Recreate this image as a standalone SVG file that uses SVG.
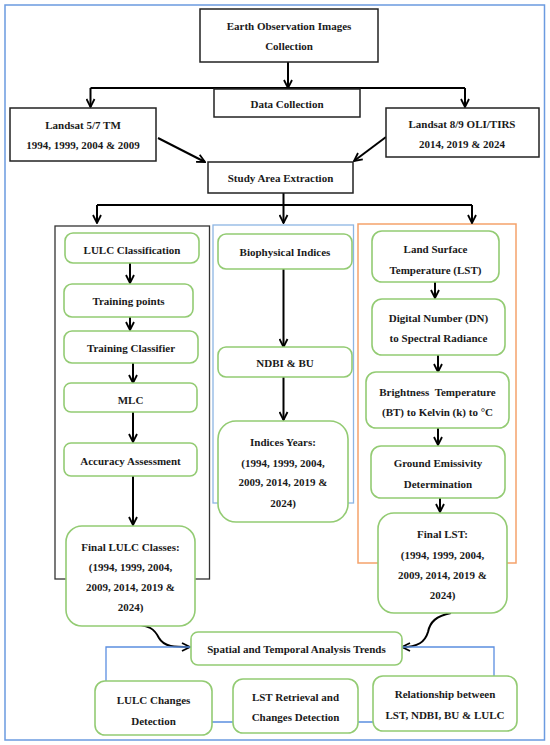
<svg xmlns="http://www.w3.org/2000/svg" width="550" height="745" viewBox="0 0 550 745" font-family="'Liberation Serif', 'Times New Roman', serif">
<style>
text{font-family:"Liberation Serif","Times New Roman",serif;font-weight:bold;font-size:11px;fill:#1a1a1a;text-anchor:middle;dominant-baseline:central}
.bx{fill:#fff;stroke:#222;stroke-width:1.5}
.gn{fill:#fff;stroke:#93cb73;stroke-width:1.6}
.ar{fill:none;stroke:#000;stroke-width:2;marker-end:url(#ah)}
.ln{fill:none;stroke:#000;stroke-width:2}
.bl{fill:none;stroke:#5b8ee0;stroke-width:1.3}
</style>
<defs>
<marker id="ah" viewBox="0 0 10 10" refX="9" refY="5" markerWidth="10" markerHeight="10" markerUnits="userSpaceOnUse" orient="auto">
<path d="M1,1 L9,5 L1,9" fill="none" stroke="#000" stroke-width="1.8"/>
</marker>
</defs>
<rect x="5" y="5" width="539.5" height="735" fill="#fff" stroke="#6b9be0" stroke-width="1.5"/>
<g id="panels">
<rect x="55" y="226" width="154.5" height="353" fill="none" stroke="#333" stroke-width="1.3"/>
<rect x="213" y="225" width="140.5" height="278" fill="none" stroke="#8db5e3" stroke-width="1.3"/>
<rect x="358" y="224" width="158" height="339" fill="none" stroke="#f5a26b" stroke-width="1.5"/>
</g>
<g id="connectors">
<path class="ar" d="M288,62 V88"/>
<path class="ln" d="M90.5,88 H465"/>
<path class="ar" d="M90.5,88 V107"/>
<path class="ar" d="M465,88 V107"/>
<path class="ar" d="M158,138 L205,162"/>
<path class="ar" d="M386,137 L354,161"/>
<path class="ln" d="M283.5,193 V205 M97,205 H472"/>
<path class="ar" d="M97,205 V223"/>
<path class="ar" d="M283.5,205 V223"/>
<path class="ar" d="M472,205 V223"/>
<path class="ar" d="M130,263 V283"/>
<path class="ar" d="M130,317 V330"/>
<path class="ar" d="M133,363 V383"/>
<path class="ar" d="M133,412 V442"/>
<path class="ar" d="M133,476 V525"/>
<path class="ar" d="M283.5,269 V347"/>
<path class="ar" d="M283.5,377 V420"/>
<path class="ar" d="M435,282 V298"/>
<path class="ar" d="M438,355 V372"/>
<path class="ar" d="M438,428 V445"/>
<path class="ar" d="M440,498 V512"/>
<path class="ar" d="M128,624 C150,624 155,630 159,638 C164,647 175,647 190,647"/>
<path class="ar" d="M451,613 C436,616 430,622 428,632 C425,642 418,647 402,647"/>
<path class="bl" d="M191,647 H106 V681"/>
<path class="bl" d="M402,647 H494 V676"/>
<path class="bl" d="M212,722 H233 M358,722 H373"/>
</g>
<g id="n-earth"><rect class="bx" x="200" y="9" width="178" height="53"/><text x="289" y="26">Earth Observation Images</text><text x="289" y="46">Collection</text></g>
<g id="n-data"><rect class="bx" x="214" y="89" width="146" height="28"/><text x="287" y="104">Data Collection</text></g>
<g id="n-l57"><rect class="bx" x="10" y="108" width="146" height="53"/><text x="83" y="125">Landsat 5/7 TM</text><text x="83" y="145">1994, 1999, 2004 &amp; 2009</text></g>
<g id="n-l89"><rect class="bx" x="386" y="108" width="153" height="49"/><text x="462" y="124">Landsat 8/9 OLI/TIRS</text><text x="462" y="144">2014, 2019 &amp; 2024</text></g>
<g id="n-study"><rect class="bx" x="208" y="162" width="145" height="31"/><text x="280.5" y="178">Study Area Extraction</text></g>
<g id="n-lulc"><rect class="gn" x="65" y="233" width="134" height="30" rx="8"/><text x="132" y="250">LULC Classification</text></g>
<g id="n-tp"><rect class="gn" x="64" y="284" width="129" height="33" rx="8"/><text x="128.5" y="301">Training points</text></g>
<g id="n-tc"><rect class="gn" x="64" y="331" width="134" height="32" rx="8"/><text x="131" y="348">Training Classifier</text></g>
<g id="n-mlc"><rect class="gn" x="64" y="383" width="133" height="29" rx="7"/><text x="130.5" y="400">MLC</text></g>
<g id="n-acc"><rect class="gn" x="64" y="443" width="133" height="33" rx="7"/><text x="130.5" y="461">Accuracy Assessment</text></g>
<g id="n-flulc"><rect class="gn" x="66" y="526" width="129" height="100" rx="16"/><text x="130.5" y="547">Final LULC Classes:</text><text x="130.5" y="567">(1994, 1999, 2004,</text><text x="130.5" y="587">2009, 2014, 2019 &amp;</text><text x="130.5" y="607">2024)</text></g>
<g id="n-bio"><rect class="gn" x="218" y="234" width="134" height="35" rx="8"/><text x="285" y="252">Biophysical Indices</text></g>
<g id="n-ndbi"><rect class="gn" x="218" y="347" width="134" height="30" rx="8"/><text x="285" y="363">NDBI &amp; BU</text></g>
<g id="n-idx"><rect class="gn" x="218" y="421" width="130" height="101" rx="18"/><text x="283" y="442">Indices Years:</text><text x="283" y="463">(1994, 1999, 2004,</text><text x="283" y="482">2009, 2014, 2019 &amp;</text><text x="283" y="503">2024)</text></g>
<g id="n-lst"><rect class="gn" x="372" y="231" width="127" height="51" rx="10"/><text x="435.5" y="249">Land Surface</text><text x="435.5" y="270">Temperature (LST)</text></g>
<g id="n-dn"><rect class="gn" x="372" y="299" width="133" height="56" rx="10"/><text x="438.5" y="318">Digital Number (DN)</text><text x="438.5" y="338">to Spectral Radiance</text></g>
<g id="n-bt"><rect class="gn" x="366" y="372" width="143" height="56" rx="10"/><text x="437.5" y="392" xml:space="preserve">Brightness  Temperature</text><text x="437.5" y="412">(BT) to Kelvin (k) to °C</text></g>
<g id="n-ge"><rect class="gn" x="371" y="446" width="134" height="52" rx="10"/><text x="438" y="463">Ground Emissivity</text><text x="438" y="484">Determination</text></g>
<g id="n-flst"><rect class="gn" x="378" y="513" width="129" height="100" rx="16"/><text x="442.5" y="534">Final LST:</text><text x="442.5" y="555">(1994, 1999, 2004,</text><text x="442.5" y="575">2009, 2014, 2019 &amp;</text><text x="442.5" y="595">2024)</text></g>
<g id="n-spatial"><rect class="gn" x="191" y="632" width="211" height="33" rx="7"/><text x="296.5" y="649">Spatial and Temporal Analysis Trends</text></g>
<g id="n-lulcchg"><rect class="gn" x="95" y="681" width="117" height="54" rx="10"/><text x="153.5" y="700">LULC Changes</text><text x="153.5" y="721">Detection</text></g>
<g id="n-lstret"><rect class="gn" x="233" y="679" width="125" height="54" rx="10"/><text x="295.5" y="697">LST Retrieval and</text><text x="295.5" y="717">Changes Detection</text></g>
<g id="n-rel"><rect class="gn" x="373" y="676" width="144" height="55" rx="10"/><text x="445" y="694">Relationship between</text><text x="445" y="715">LST, NDBI, BU &amp; LULC</text></g>
</svg>
